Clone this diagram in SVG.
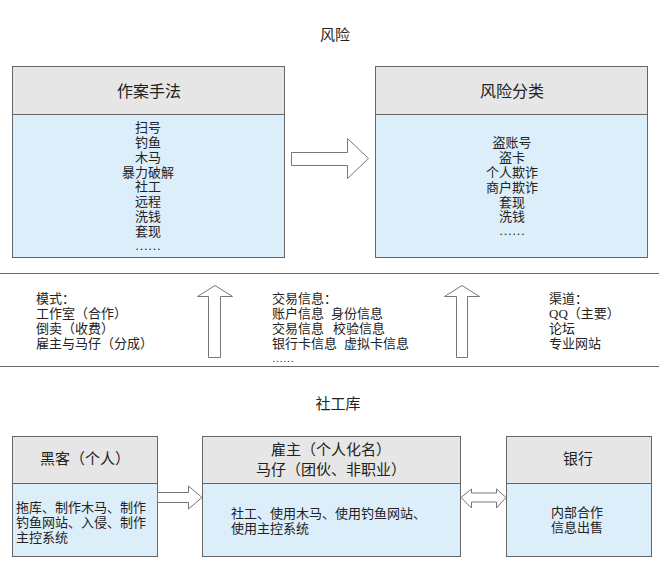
<svg xmlns="http://www.w3.org/2000/svg" width="659" height="571" viewBox="0 0 659 571">
<style>
text{font-family:"Liberation Serif","Noto Sans CJK SC",serif;fill:#222}
.hd{fill:#e6e6e6;stroke:#666;stroke-width:1}
.bd{fill:#ddeefb;stroke:#666;stroke-width:1}
.ar{fill:#fff;stroke:#777;stroke-width:1}
.t{font-size:15px;text-anchor:middle}
.h{font-size:16px;text-anchor:middle}
.s{font-size:13px}
.c{font-size:13px;text-anchor:middle}
.ln{stroke:#666;stroke-width:1.2}
</style>
<rect width="659" height="571" fill="#fff"/>
<text class="t" x="335" y="40">风险</text>
<text class="t" x="338" y="409">社工库</text>
<line class="ln" x1="0" y1="273.5" x2="659" y2="273.5"/>
<line class="ln" x1="0" y1="366.5" x2="659" y2="366.5"/>
<g id="methods">
<rect class="hd" x="12.5" y="66.5" width="272" height="48"/>
<rect class="bd" x="12.5" y="114.5" width="272" height="143"/>
<text class="h" x="149" y="97">作案手法</text>
<g class="c">
<text x="148" y="132">扫号</text>
<text x="148" y="147">钓鱼</text>
<text x="148" y="162">木马</text>
<text x="148" y="177">暴力破解</text>
<text x="148" y="191">社工</text>
<text x="148" y="206">远程</text>
<text x="148" y="221">洗钱</text>
<text x="148" y="236">套现</text>
<text x="148" y="250">……</text>
</g>
</g>
<g id="risks">
<rect class="hd" x="375.5" y="66.5" width="272" height="48"/>
<rect class="bd" x="375.5" y="114.5" width="272" height="143"/>
<text class="h" x="512" y="97">风险分类</text>
<g class="c">
<text x="512" y="147">盗账号</text>
<text x="512" y="162">盗卡</text>
<text x="512" y="177">个人欺诈</text>
<text x="512" y="192">商户欺诈</text>
<text x="512" y="207">套现</text>
<text x="512" y="221">洗钱</text>
<text x="512" y="235">……</text>
</g>
</g>
<g id="mode">
<g class="s">
<text x="36" y="303">模式：</text>
<text x="36" y="318">工作室（合作）</text>
<text x="36" y="333">倒卖（收费）</text>
<text x="36" y="348">雇主与马仔（分成）</text>
</g>
</g>
<g id="info">
<g class="s">
<text x="272" y="303">交易信息：</text>
<text x="272" y="318">账户信息<tspan x="331">身份信息</tspan></text>
<text x="272" y="333">交易信息<tspan x="333">校验信息</tspan></text>
<text x="272" y="348">银行卡信息<tspan x="344">虚拟卡信息</tspan></text>
<text x="272" y="362" style="font-size:11px">……</text>
</g>
</g>
<g id="channel">
<g class="s">
<text x="549" y="303">渠道：</text>
<text x="549" y="318">QQ（主要）</text>
<text x="549" y="333">论坛</text>
<text x="549" y="348">专业网站</text>
</g>
</g>
<g id="hacker">
<rect class="hd" x="12.5" y="436.5" width="145" height="47"/>
<rect class="bd" x="12.5" y="483.5" width="145" height="73"/>
<text class="t" x="85" y="464">黑客（个人）</text>
<g class="s">
<text x="16" y="512">拖库、制作木马、制作</text>
<text x="16" y="527">钓鱼网站、入侵、制作</text>
<text x="16" y="542">主控系统</text>
</g>
</g>
<g id="employer">
<rect class="hd" x="202.5" y="436.5" width="258" height="47"/>
<rect class="bd" x="202.5" y="483.5" width="258" height="73"/>
<text class="t" x="331" y="455">雇主（个人化名）</text>
<text class="t" x="331" y="475">马仔（团伙、非职业）</text>
<g class="s">
<text x="231" y="518">社工、使用木马、使用钓鱼网站、</text>
<text x="231" y="533">使用主控系统</text>
</g>
</g>
<g id="bank">
<rect class="hd" x="506.5" y="436.5" width="145" height="47"/>
<rect class="bd" x="506.5" y="483.5" width="145" height="73"/>
<text class="t" x="578" y="464">银行</text>
<g class="c">
<text x="577" y="517">内部合作</text>
<text x="577" y="532">信息出售</text>
</g>
</g>
<g id="connectors">
<polygon class="ar" points="291.5,152.5 347.5,152.5 347.5,138.5 368.5,158.5 347.5,178.5 347.5,165.5 291.5,165.5"/>
<polygon class="ar" points="208.5,357.5 208.5,296.5 197.5,296.5 215,285.5 232.5,296.5 220.5,296.5 220.5,357.5"/>
<polygon class="ar" points="456.5,357.5 456.5,296.5 444.5,296.5 462,285.5 479.5,296.5 467.5,296.5 467.5,357.5"/>
<polygon class="ar" points="157.5,492.5 188.5,492.5 188.5,486 202,497.5 188.5,509 188.5,502.5 157.5,502.5"/>
<polygon class="ar" points="461,497.5 471.5,489 471.5,493 496.5,493 496.5,489 506,497.5 496.5,508 496.5,502 471.5,502 471.5,508"/>
</g>
</svg>
